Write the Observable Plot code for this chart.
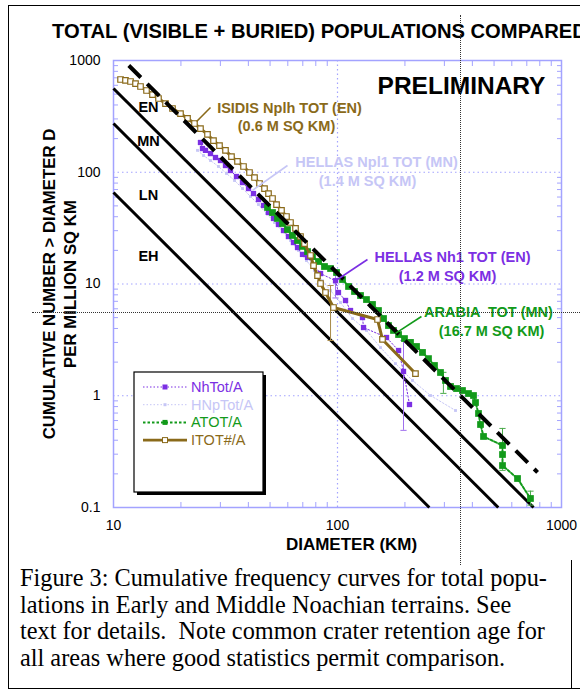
<!DOCTYPE html>
<html><head><meta charset="utf-8">
<script src="https://cdn.jsdelivr.net/npm/d3@7"></script>
<script src="https://cdn.jsdelivr.net/npm/@observablehq/plot@0.6"></script>
<style>
html,body{margin:0;padding:0;background:#fff;}
#wrap{position:relative;width:580px;height:691px;overflow:hidden;font-family:Arial,"Liberation Sans",sans-serif;}
#wrap svg{position:absolute;left:0;top:0;overflow:visible;}
#title{position:absolute;left:52px;top:20px;font-weight:bold;font-size:20.2px;white-space:nowrap;color:#000;}
#caption{position:absolute;left:20px;top:565px;font-family:"Liberation Serif","Times New Roman",serif;font-size:24.3px;line-height:26.5px;white-space:nowrap;color:#000;}
.box{position:absolute;border:0 solid #000;}
.dot{position:absolute;border:0 dotted #333;}
</style></head><body><div id="wrap">
<div class="box" style="left:8px;top:5px;width:600px;height:682px;border-left-width:1.5px;border-top-width:1.5px;border-bottom-width:1.5px;"></div>
<div class="box" style="left:571px;top:560px;width:0;height:128px;border-left-width:1.5px;"></div>
<div id="title">TOTAL (VISIBLE + BURIED) POPULATIONS COMPARED</div>
<div id="caption">Figure 3: Cumulative frequency curves for total popu-<br>lations in Early and Middle Noachian terrains. See<br>text for details.&nbsp; Note common crater retention age for<br>all areas where good statistics permit comparison.</div>
</div>
<script>
// ---------- data ----------
const isidisD = [10.75,11.31,11.91,12.54,13.20,14.04,14.93,15.88,17.07,18.34,19.91,21.40,22.99,24.45,26.28,27.95,29.73,31.62,33.63,35.77,38.05,40.47,42.61,44.86,47.22,49.20,51.27,53.43,56.23,59.19,61.68,64.94,68.36,71.24,75.79,78.17,81.43,83.99,88.4,95.97,150.9,158.8,222.9];
const isidisN = [676,663,649,622,585,539,496,457,412,372,335,303,273,246,218,192,173,157,138,125,112.6,99.5,89.7,79.3,71.5,64.5,58.2,51.4,45.5,40.2,35.5,31.4,26.6,23.0,18.0,14.6,11.9,10.1,8.39,6.16,4.81,3.19,1.58];

const nhD = [24.45,24.96,25.75,27.1,28.53,30.04,31.62,33.29,35.40,37.66,40.06,42.17,44.39,46.73,49.2,51.8,54.5,57.4,60.4,63.6,66.3,69.8,73.5,84.0,98.0,101.0,108.6,114.3,129.3,130.7,165.5,187.3,197.1,209.6];
const nhN = [184.6,163,157,147,135.5,127.4,114.9,103.7,91.6,80.9,71.5,64.5,57.0,50.4,43.6,38.6,34.1,30.1,26.6,23.5,21.2,18.4,17.3,12.4,10.7,8.39,7.12,5.79,5.01,4.08,3.32,2.54,1.65,0.835];

const hnpD = [23.71,25.23,27.1,29.42,31.95,34.69,37.66,40.89,44.39,48.19,52.34,56.81,61.68,66.97,72.7,78.9,85.7,93.1,103.1,116.7,134.7,155.6,181.5,216.2,260.2,336.4];
const hnpN = [157,141.2,127.4,112.6,97.5,84.4,71.5,60.7,51.4,42.8,35.5,29.5,24.5,19.95,16.2,13.2,10.7,8.74,6.83,4.91,3.84,2.70,1.94,1.37,1.005,0.738];

const arD = [48.7,51.27,53.96,56.81,59.8,62.96,66.3,69.8,73.5,77.3,82.3,87.5,93.1,99.0,105.3,112.0,119.1,126.7,134.7,143.3,152.4,160.5,168.9,177.8,187.3,199.1,211.8,225.3,239.6,254.8,271.0,288.3,303.5,319.6,339.9,361.4,384.4,404.7,413.1,426.1,435.0,448.6,545.3,545.3,545.3,636.3,727.0];
const arN = [48.4,43.6,38.6,34.8,30.7,27.2,24.5,21.7,19.5,17.6,15.9,14.34,13.76,12.67,10.97,9.50,8.57,7.89,7.26,6.56,5.79,4.91,4.25,3.84,3.53,3.25,3.00,2.76,2.44,2.15,1.866,1.615,1.37,1.21,1.16,1.114,1.047,1.005,0.870,0.694,0.553,0.432,0.359,0.298,0.2375,0.1817,0.1204];

// error bars
const nhErrD = [98.0, 197.1], nhErrLo = [7.5, 0.49], nhErrHi = [13.2, 3.12];
const isErrD = [93.1], isErrLo = [3.12], isErrHi = [9.69];
const arErrD = [297, 545.3, 727], arErrLo = [1.05, 0.215, 0.105], arErrHi = [1.62, 0.51, 0.14];

// isochron reference lines (endpoints)
const isoD1 = [10, 10, 10], isoN1 = [561, 273, 65.9], isoD2 = [750, 522, 257], isoN2 = [0.1, 0.1, 0.1];
const dashD1 = 11.7, dashN1 = 902, dashD2 = 782, dashN2 = 0.206;

// zone labels
const zoneText = ["EN", "MN", "LN", "EH"];
const zoneD = [14.33, 14.33, 14.33, 14.33];
const zoneN = [379.7, 188.5, 61.9, 17.6];

// annotation labels
const annText = ["ISIDIS Nplh TOT (EN)", "(0.6 M SQ KM)", "HELLAS Npl1 TOT (MN)", "(1.4 M SQ KM)", "HELLAS Nh1 TOT (EN)", "(1.2 M SQ KM)", "ARABIA  TOT (MN)", "(16.7 M SQ KM)"];
const annD = [61.05, 59.2, 149.3, 136.1, 326, 309.8, 472, 487];
const annN = [372, 256.7, 122.3, 82.6, 17.27, 11.67, 5.56, 3.76];
const annSeries = [3, 3, 1, 1, 0, 0, 2, 2];
// leader lines
const leadD1 = [27.1, 59.8, 136.1, 237], leadN1 = [379.7, 114.9, 16.56, 5.12];
const leadD2 = [23.5, 41.7, 98.0, 181.5], leadN2 = [284.5, 68.7, 10.7, 3.61];
const leadSeries = [3, 1, 0, 2];

const xTicks = [10, 100, 1000];
const yTicks = [0.1, 1, 10, 100, 1000];
const xMinor = [20,30,40,50,60,70,80,90,200,300,400,500,600,700,800,900];
const yMinor = [0.2,0.3,0.4,0.5,0.6,0.7,0.8,0.9,2,3,4,5,6,7,8,9,20,30,40,50,60,70,80,90,200,300,400,500,600,700,800,900];

const seriesNames = ["NhTot/A", "HNpTot/A", "ATOT/A", "ITOT#/A"];
const seriesColors = ["#7b2fe3", "#c6c6f6", "#129a1a", "#8a6a1a"];

// ---------- build ----------
const BLUE = "#a3a3ff";
const [PURPLE, LAV, GREEN, OLIVE] = seriesColors;
const pts = (D, N) => D.map((d, i) => ({D: d, N: N[i]}));
const errs = (D, lo, hi) => D.map((d, i) => ({D: d, lo: lo[i], hi: hi[i]}));
const isidis = pts(isidisD, isidisN), nh = pts(nhD, nhN), hnp = pts(hnpD, hnpN), ar = pts(arD, arN);
const isos = isoD1.map((d, i) => ({x1: d, y1: isoN1[i], x2: isoD2[i], y2: isoN2[i]}));
const dash = [{x1: dashD1, y1: dashN1, x2: dashD2, y2: dashN2}];
const zones = zoneText.map((t, i) => ({t, D: zoneD[i], N: zoneN[i]}));
const anns = annText.map((t, i) => ({t, D: annD[i], N: annN[i], s: annSeries[i]}));
const leads = leadD1.map((d, i) => ({x1: d, y1: leadN1[i], x2: leadD2[i], y2: leadN2[i], s: leadSeries[i]}));
const cap = {draw(ctx, size) { const w = Math.sqrt(size) / 2; ctx.moveTo(-w, 0); ctx.lineTo(w, 0); }};
const errMarks = (data, color) => [
  Plot.ruleX(data, {x: "D", y1: "lo", y2: "hi", stroke: color, strokeWidth: 1}),
  Plot.dot(data, {x: "D", y: "lo", symbol: cap, r: 3.5, stroke: color, fill: "none", strokeWidth: 1}),
  Plot.dot(data, {x: "D", y: "hi", symbol: cap, r: 3.5, stroke: color, fill: "none", strokeWidth: 1})
];
const tk = {stroke: BLUE, text: null, label: null, tickSize: 5};

const chart = Plot.plot({
  width: 580, height: 565,
  marginLeft: 113, marginRight: 19, marginTop: 60, marginBottom: 58,
  x: {type: "log", domain: [10, 1000]},
  y: {type: "log", domain: [0.1, 1000]},
  style: {fontFamily: "Arial, 'Liberation Sans', sans-serif", background: "transparent", color: "#000"},
  marks: [
    Plot.gridX([100], {stroke: BLUE, strokeOpacity: 1, strokeWidth: 1.2, strokeDasharray: "1.5,3"}),
    Plot.gridY([1, 10, 100], {stroke: BLUE, strokeOpacity: 1, strokeWidth: 1.2, strokeDasharray: "1.5,3"}),
    Plot.axisX(xMinor, {...tk, anchor: "bottom", dy: -5}),
    Plot.axisX(xMinor, {...tk, anchor: "top", dy: 5}),
    Plot.axisY(yMinor, {...tk, anchor: "left", dx: 5}),
    Plot.axisY(yMinor, {...tk, anchor: "right", dx: -5}),
    Plot.axisX(xTicks, {anchor: "bottom", tickSize: 0, tickPadding: 13, fontSize: 14, tickFormat: d => String(d), label: null}),
    Plot.axisY(yTicks, {anchor: "left", tickSize: 0, tickPadding: 13, fontSize: 14, tickFormat: d => String(d), label: null}),
    Plot.frame({stroke: BLUE, strokeWidth: 1.5}),
    Plot.link(isos, {x1: "x1", y1: "y1", x2: "x2", y2: "y2", stroke: "black", strokeWidth: 3}),
    // Hellas Npl1
    Plot.line(hnp, {x: "D", y: "N", stroke: LAV, strokeWidth: 1, strokeDasharray: "1.5,2"}),
    Plot.dot(hnp, {x: "D", y: "N", symbol: "square", r: 1.6, fill: LAV}),
    // Hellas Nh1
    ...errMarks(errs(nhErrD, nhErrLo, nhErrHi), "#a070ee"),
    Plot.line(nh, {x: "D", y: "N", stroke: PURPLE, strokeWidth: 1, strokeDasharray: "1.5,2"}),
    Plot.dot(nh, {x: "D", y: "N", symbol: "square", r: 3, fill: PURPLE}),
    // Arabia
    ...errMarks(errs(arErrD, arErrLo, arErrHi), "#4aaa4a"),
    Plot.line(ar, {x: "D", y: "N", stroke: GREEN, strokeWidth: 2, strokeDasharray: "2.5,2"}),
    Plot.dot(ar, {x: "D", y: "N", symbol: "square", r: 3.8, fill: GREEN}),
    // Isidis
    ...errMarks(errs(isErrD, isErrLo, isErrHi), "#a88a4a"),
    Plot.line(isidis, {x: "D", y: "N", stroke: OLIVE, strokeWidth: 3}),
    Plot.dot(isidis, {x: "D", y: "N", symbol: "square", r: 3.1, fill: "white", stroke: OLIVE, strokeWidth: 1.2}),
    // dashed reference
    Plot.link(dash, {x1: "x1", y1: "y1", x2: "x2", y2: "y2", stroke: "black", strokeWidth: 4, strokeDasharray: "17,9"}),
    // zone labels
    Plot.text(zones, {x: "D", y: "N", text: "t", fontSize: 14.5, fontWeight: "bold", fill: "black"}),
    // annotations + leaders
    ...leads.map(l => Plot.link([l], {x1: "x1", y1: "y1", x2: "x2", y2: "y2", stroke: seriesColors[l.s], strokeWidth: 1.6})),
    ...anns.map(a => Plot.text([a], {x: "D", y: "N", text: "t", fill: seriesColors[a.s], fontSize: 14.5, fontWeight: "bold"})),
    Plot.text(["PRELIMINARY"], {x: 357.8, y: 585, text: d => d, fontSize: 24.5, fontWeight: "bold", fill: "black"}),
    // axis titles
    Plot.text(["CUMULATIVE NUMBER > DIAMETER D\nPER MILLION SQ KM"], {frameAnchor: "left", textAnchor: "middle", dx: -55, rotate: -90, text: d => d, fontSize: 16.8, fontWeight: "bold", lineHeight: 1.25, fill: "black"}),
    Plot.text(["DIAMETER (KM)"], {frameAnchor: "bottom", dy: 42, dx: 14, text: d => d, fontSize: 17, fontWeight: "bold", fill: "black"})
  ]
});
document.getElementById("wrap").appendChild(chart);

// legend
const svg = d3.select(chart);
const lg = svg.append("g").attr("text-anchor", "start");
lg.append("rect").attr("x", 137).attr("y", 375).attr("width", 129).attr("height", 120).attr("fill", "black");
lg.append("rect").attr("x", 134).attr("y", 372).attr("width", 129).attr("height", 120).attr("fill", "white").attr("stroke", "black").attr("stroke-width", 1.2);
const styles = [
  {dash: "1.5,2", w: 1, marker: "fill", s: 5},
  {dash: "1.5,2", w: 1, marker: "fill", s: 3},
  {dash: "2.5,2", w: 2, marker: "fill", s: 5},
  {dash: null, w: 2.6, marker: "open", s: 5}
];
seriesNames.forEach((name, i) => {
  const y = 387 + i * 17.7, c = seriesColors[i], st = styles[i];
  const ln = lg.append("line").attr("x1", 143).attr("x2", 187).attr("y1", y).attr("y2", y).attr("stroke", c).attr("stroke-width", st.w);
  if (st.dash) ln.attr("stroke-dasharray", st.dash);
  lg.append("rect").attr("x", 165 - st.s / 2).attr("y", y - st.s / 2).attr("width", st.s).attr("height", st.s)
    .attr("fill", st.marker === "open" ? "white" : c).attr("stroke", st.marker === "open" ? c : "none").attr("stroke-width", 1);
  lg.append("text").attr("x", 191).attr("y", y + 5).attr("text-anchor", "start").attr("font-size", 14.5).attr("fill", c).text(name);
});

// dotted crosshair overlay
const wrap = document.getElementById("wrap");
const v = document.createElement("div"); v.className = "dot";
v.style.cssText = "left:460px;top:15px;width:0;height:550px;border-left-width:1px;";
const h = document.createElement("div"); h.className = "dot";
h.style.cssText = "left:32px;top:312px;width:548px;height:0;border-top-width:1px;";
wrap.appendChild(v); wrap.appendChild(h);
</script></body></html>
